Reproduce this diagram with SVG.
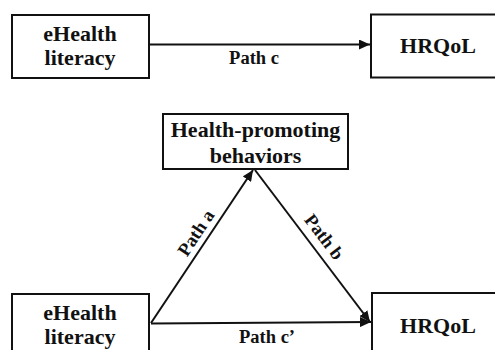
<svg xmlns="http://www.w3.org/2000/svg" width="495" height="350" viewBox="0 0 495 350" font-family="'Liberation Serif', 'DejaVu Serif', serif">
<style>
.box{fill:#fff;stroke:#111;stroke-width:2}
.lbl{font-family:'Liberation Serif','DejaVu Serif',serif;font-weight:bold;font-size:22px;fill:#111;text-anchor:middle}
.path{font-family:'Liberation Serif','DejaVu Serif',serif;font-weight:bold;font-size:18.5px;fill:#111;text-anchor:middle}
.edge{stroke:#111;stroke-width:2;fill:none;marker-end:url(#ah)}
</style>
<defs>
<marker id="ah" markerUnits="userSpaceOnUse" markerWidth="12" markerHeight="10" refX="11" refY="5" orient="auto">
<path d="M0,0 L11,5 L0,10 Z" fill="#111"/>
</marker>
</defs>
<rect width="495" height="350" fill="#fff"/>
<g id="edges">
<line class="edge" x1="149" y1="44.5" x2="370" y2="44.5"/>
<line class="edge" x1="151" y1="323" x2="253" y2="170"/>
<line class="edge" x1="255" y1="170" x2="370" y2="322"/>
<line class="edge" x1="151" y1="323.5" x2="371" y2="322"/>
<text class="path" x="254" y="64">Path c</text>
<text class="path" transform="translate(196,233) rotate(-56.3)" x="0" y="6">Path a</text>
<text class="path" transform="translate(324,237) rotate(52.9)" x="0" y="6">Path b</text>
<text class="path" x="267" y="343">Path c’</text>
</g>
<g id="n1">
<rect class="box" x="12" y="15" width="137" height="63"/>
<text class="lbl" x="80" y="40.5">eHealth</text>
<text class="lbl" x="80" y="64.5">literacy</text>
</g>
<g id="n2">
<rect class="box" x="371" y="14.5" width="140" height="63"/>
<text class="lbl" x="438" y="53">HRQoL</text>
</g>
<g id="n3">
<rect class="box" x="163" y="114" width="185" height="55"/>
<text class="lbl" x="255.5" y="136.5">Health-promoting</text>
<text class="lbl" x="255.5" y="162.5">behaviors</text>
</g>
<g id="n4">
<rect class="box" x="12" y="294" width="137" height="70"/>
<text class="lbl" x="80" y="319.5">eHealth</text>
<text class="lbl" x="80" y="343.5">literacy</text>
</g>
<g id="n5">
<rect class="box" x="372" y="293" width="140" height="70"/>
<text class="lbl" x="438" y="333">HRQoL</text>
</g>
</svg>
